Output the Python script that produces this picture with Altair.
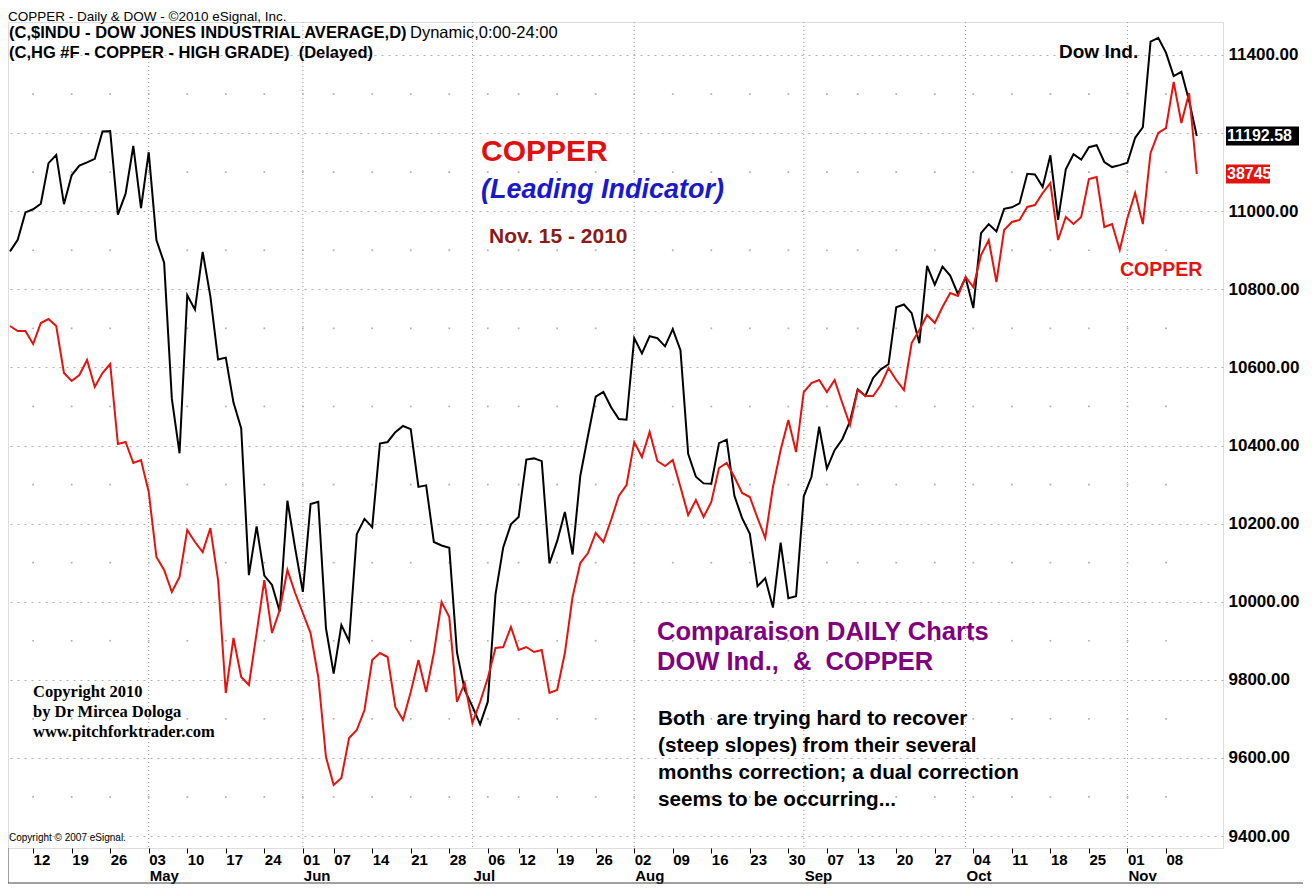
import altair as alt
import pandas as pd

# ---------------- data ----------------
# trading-day index 0 = Apr 7 2010 ... 154 = Nov 12 2010
dow = [10897, 10927, 10997, 11005, 11019, 11123, 11144, 11018, 11092, 11117,
       11125, 11134, 11204, 11205, 10991, 11045, 11167, 11008, 11151, 10926,
       10868, 10520, 10380, 10785, 10748, 10896, 10782, 10620, 10625, 10510,
       10444, 10068, 10193, 10067, 10043, 9975, 10259, 10137, 10025, 10250,
       10256, 9932, 9816, 9940, 9899, 10173, 10212, 10191, 10405, 10409,
       10434, 10450, 10442, 10294, 10298, 10153, 10144, 10138, 9870, 9774,
       9732, 9686, 9744, 10019, 10139, 10198, 10217, 10364, 10367, 10360,
       10098, 10155, 10230, 10121, 10322, 10425, 10525, 10537, 10498, 10468,
       10466, 10675, 10636, 10680, 10675, 10654, 10698, 10644, 10379, 10320,
       10303, 10302, 10406, 10415, 10271, 10214, 10174, 10040, 10060, 9985,
       10151, 10009, 10014, 10270, 10320, 10448, 10341, 10388, 10416, 10462,
       10544, 10527, 10573, 10595, 10608, 10754, 10761, 10739, 10662, 10860,
       10812, 10858, 10835, 10788, 10830, 10752, 10944, 10967, 10948, 11006,
       11010, 11020, 11096, 11094, 11062, 11143, 10978, 11107, 11146, 11132,
       11164, 11169, 11126, 11113, 11118, 11124, 11188, 11215, 11434, 11444,
       11406, 11346, 11357, 11283, 11192.58]

copper = [35961, 35870, 35870, 35631, 36016, 36089, 35961, 35100, 34954, 35064,
          35338, 34844, 35100, 35265, 33800, 33837, 33452, 33507, 32921, 31730,
          31492, 31089, 31364, 32225, 32005, 31822, 32261, 31309, 29240, 30247,
          29533, 29386, 30338, 31309, 30338, 30760, 31492, 31071, 30705, 30338,
          29533, 28067, 27555, 27683, 28415, 28562, 28928, 29844, 29972, 29899,
          28983, 28745, 29258, 29844, 29258, 29972, 30906, 30631, 29075, 29423,
          28690, 29075, 29514, 30064, 30082, 30448, 30027, 30082, 29990, 30027,
          29240, 29294, 29972, 30998, 31620, 31804, 32170, 32005, 32408, 32848,
          33049, 33837, 33562, 34020, 33489, 33397, 33507, 33012, 32500, 32774,
          32463, 32738, 33360, 33452, 33196, 32903, 32829, 32445, 32078, 33012,
          33690, 34240, 33653, 34752, 34917, 34972, 34752, 34972, 34551, 34148,
          34789, 34679, 34679, 34881, 35192, 34972, 34789, 35650, 35888, 36163,
          36016, 36309, 36566, 36511, 36859, 36675, 37261, 37536, 36767, 37719,
          37866, 37903, 38141, 38177, 38397, 38580, 37536, 37957, 37829, 37957,
          38653, 38690, 37774, 37829, 37353, 37939, 38397, 37829, 39130, 39496,
          39587, 40430, 39679, 40229, 38745]

week_idx = [3, 8, 13, 18, 23, 28, 33, 38, 42, 47, 52, 57, 62, 66, 71, 76, 81, 86,
            91, 96, 101, 106, 110, 115, 120, 125, 130, 135, 140, 145, 150]
week_lbl = ["12", "19", "26", "03", "10", "17", "24", "01", "07", "14", "21", "28",
            "06", "12", "19", "26", "02", "09", "16", "23", "30", "07", "13", "20",
            "27", "04", "11", "18", "25", "01", "08"]
month_idx = [18, 38, 60, 81, 103, 124, 145]
month_lbl = ["May", "Jun", "Jul", "Aug", "Sep", "Oct", "Nov"]
y_ticks = list(range(9400, 11401, 200))
dot_levels = list(range(9500, 11400, 200))
last_dow_label = "11192.58"
last_cu_label = "38745"

# ---------------- layout / style ----------------
W, H = 1215, 826
RED = "#e3140f"
FONT = "Liberation Sans"

df = pd.DataFrame({"i": list(range(len(dow))), "dow": dow, "copper": copper})
dots_df = pd.DataFrame([{"i": w, "lvl": l} for w in week_idx for l in dot_levels])
month_df = pd.DataFrame({"i": month_idx, "m": month_lbl})

xscale = alt.Scale(domain=[-0.26, 157.4], nice=False, zero=False)
label_expr = ("[" + ",".join(f"'{s}'" for s in week_lbl) + "][indexof(["
              + ",".join(str(v) for v in week_idx) + "], datum.value)]")
xaxis = alt.Axis(values=week_idx, labelExpr=label_expr, title=None, grid=False,
                 domain=False, ticks=True, tickSize=5, tickColor="black",
                 labelAlign="left", labelBaseline="middle", labelPadding=6,
                 labelFontSize=15, labelFontWeight="bold", labelColor="black",
                 labelFont=FONT, labelFlush=False, labelOverlap=False)
X = alt.X("i:Q", scale=xscale, axis=xaxis)

yscale = alt.Scale(domain=[9369.3, 11484.5], nice=False, zero=False)
yaxis = alt.Axis(orient="right", values=y_ticks, title=None, grid=True,
                 gridDash=[2, 5], gridColor="#b0b0b0", gridWidth=1,
                 domain=False, ticks=False, labelPadding=5, labelAlign="left",
                 labelBaseline="middle", labelFontSize=17, labelFontWeight="bold",
                 labelColor="black", labelFont=FONT, labelFlush=False,
                 labelOverlap=False,
                 labelExpr="datum.value == 11200 ? '' : format(datum.value, '.2f')")
cscale = alt.Scale(domain=[26401, 41529], nice=False, zero=False)

# ---------------- dow layer ----------------
dots = alt.Chart(dots_df).mark_square(size=3, color="#b0b0b0", opacity=1).encode(
    x=X, y=alt.Y("lvl:Q", scale=yscale, axis=yaxis))
dow_line = alt.Chart(df).mark_line(color="black", strokeWidth=2).encode(
    x=X, y=alt.Y("dow:Q", scale=yscale, axis=yaxis))
dflag_df = pd.DataFrame({"v": [dow[-1]], "t": [last_dow_label]})
dow_flag = alt.Chart(dflag_df).transform_calculate(
    lo="datum.v - 24.3", hi="datum.v + 24.3").mark_rect(color="black").encode(
    x=alt.value(W + 3), x2=alt.value(W + 76),
    y=alt.Y("lo:Q", scale=yscale, axis=yaxis), y2="hi:Q")
dow_flag_t = alt.Chart(dflag_df).mark_text(
    align="left", baseline="middle", color="white", fontSize=16,
    fontWeight="bold", font=FONT).encode(
    x=alt.value(W + 4), y=alt.Y("v:Q", scale=yscale, axis=yaxis), text="t:N")
dow_layer = alt.layer(dots, dow_line, dow_flag, dow_flag_t)

# ---------------- copper layer ----------------
cu_line = alt.Chart(df).mark_line(color=RED, strokeWidth=2).encode(
    x=X, y=alt.Y("copper:Q", scale=cscale, axis=None))
cflag_df = pd.DataFrame({"v": [copper[-1]], "t": [last_cu_label]})
cu_flag = alt.Chart(cflag_df).transform_calculate(
    lo="datum.v - 174", hi="datum.v + 174").mark_rect(color=RED).encode(
    x=alt.value(W + 3), x2=alt.value(W + 47),
    y=alt.Y("lo:Q", scale=cscale, axis=None), y2="hi:Q")
cu_flag_t = alt.Chart(cflag_df).mark_text(
    align="left", baseline="middle", color="white", fontSize=16,
    fontWeight="bold", font=FONT).encode(
    x=alt.value(W + 4), y=alt.Y("v:Q", scale=cscale, axis=None), text="t:N")
cu_layer = alt.layer(cu_line, cu_flag, cu_flag_t)

# ---------------- month lines / labels ----------------
month_rules = alt.Chart(month_df).mark_rule(
    color="#9a9a9a", strokeDash=[1, 3], strokeWidth=1).encode(x=X)
month_text = alt.Chart(month_df).mark_text(
    align="left", baseline="middle", fontSize=15, fontWeight="bold",
    color="black", font=FONT, dx=1).encode(x=X, y=alt.value(H + 28), text="m:N")


def note(text, x, y, size, color="black", weight="bold", style="normal",
         font=FONT):
    return alt.Chart(alt.Data(values=[{}])).mark_text(
        text=text, align="left", baseline="middle", fontSize=size,
        fontWeight=weight, fontStyle=style, color=color, font=font).encode(
        x=alt.value(x), y=alt.value(y))


NB = "\u00a0"
notes = [
    note("COPPER - Daily & DOW - ©2010 eSignal, Inc.", 0, -5, 13.5, weight="normal"),
    note("(C,$INDU - DOW JONES INDUSTRIAL AVERAGE,D)", 1, 11, 16.5),
    note("Dynamic,0:00-24:00", 402, 11, 16.5, weight="normal"),
    note("(C,HG #F - COPPER - HIGH GRADE)" + NB + " (Delayed)", 1, 31, 16.5),
    note("COPPER", 473, 130, 30, color="#e01010"),
    note("(Leading Indicator)", 473, 168, 27, color="#1818cc", style="italic"),
    note("Nov. 15 - 2010", 481, 215, 21, color="#8b1a1a"),
    note("Dow Ind.", 1051, 30, 19),
    note("COPPER", 1112, 248, 19.5, color=RED),
    note("Comparaison DAILY Charts", 649, 610, 25.5, color="#800080"),
    note("DOW Ind.," + NB + " &" + NB + " COPPER", 649, 640, 25.5, color="#800080"),
    note("Both" + NB + " are trying hard to recover", 650, 697, 20.7),
    note("(steep slopes) from their several", 650, 724, 20.7),
    note("months correction; a dual correction", 650, 751, 20.7),
    note("seems to be occurring...", 650, 778, 20.7),
    note("Copyright 2010", 25, 670, 16.5, font="Liberation Serif"),
    note("by Dr Mircea Dologa", 25, 690, 16.5, font="Liberation Serif"),
    note("www.pitchforktrader.com", 25, 710, 16.5, font="Liberation Serif"),
    note("Copyright © 2007 eSignal.", 1, 816, 10, weight="normal"),
]

frame_bottom = alt.Chart(alt.Data(values=[{}])).mark_rule(
    color="#444444", strokeWidth=1).encode(
    x=alt.value(0), x2=alt.value(W + 80), y=alt.value(H + 35))
frame_left = alt.Chart(alt.Data(values=[{}])).mark_rule(
    color="#444444", strokeWidth=1).encode(
    x=alt.value(0), y=alt.value(H), y2=alt.value(H + 35))

chart = alt.layer(
    month_rules, dow_layer, cu_layer, month_text, *notes, frame_bottom, frame_left
).resolve_scale(y="independent").properties(
    width=W, height=H,
    autosize=alt.AutoSizeParams(type="none"),
    padding={"left": 0, "top": 14, "right": 81, "bottom": 36},
).configure_view(stroke="black", strokeWidth=1).configure(font=FONT)

chart.save("out.html", embed_options={"renderer": "svg", "actions": False})
